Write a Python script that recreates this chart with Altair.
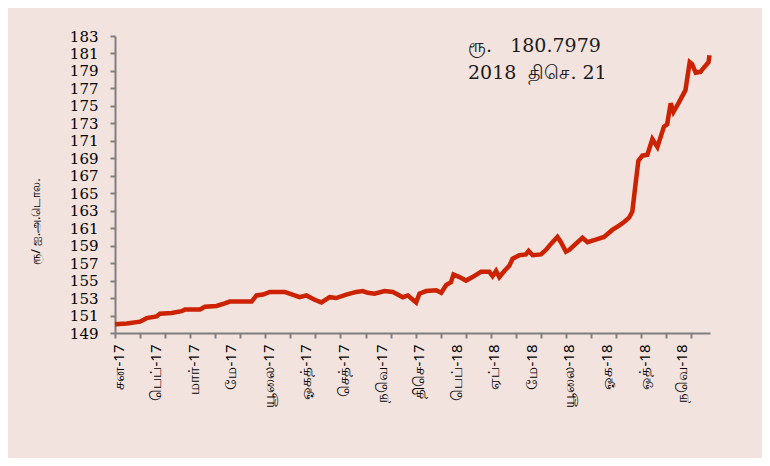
import altair as alt
import pandas as pd

# x position in months since 1 Jan 2017, rate in LKR per USD
months = [0.00, 0.47, 1.00, 1.26, 1.66, 1.79, 2.26, 2.66, 2.79, 3.39, 3.59, 4.05, 4.38, 4.58,
          5.45, 5.65, 5.91, 6.18, 6.77, 6.97, 7.37, 7.64, 7.97, 8.24, 8.57, 8.83, 9.23, 9.63,
          9.89, 10.09, 10.36, 10.76, 11.09, 11.49, 11.69, 12.02, 12.15, 12.42, 12.82, 13.02,
          13.22, 13.41, 13.51, 13.75, 14.01, 14.27, 14.61, 14.94, 15.07, 15.21, 15.34, 15.54,
          15.74, 15.87, 16.14, 16.40, 16.51, 16.67, 17.00, 17.20, 17.40, 17.66, 17.80, 18.00,
          18.13, 18.39, 18.66, 18.86, 19.19, 19.52, 19.85, 20.12, 20.32, 20.52, 20.65, 20.78,
          20.89, 21.05, 21.25, 21.45, 21.65, 21.91, 22.04, 22.18, 22.29, 22.51, 22.77, 22.94,
          23.03, 23.18, 23.37, 23.51, 23.69, 23.73]
rates = [150.0, 150.1, 150.3, 150.7, 150.9, 151.2, 151.3, 151.5, 151.7, 151.7, 152.0, 152.1,
         152.4, 152.6, 152.6, 153.3, 153.4, 153.7, 153.7, 153.5, 153.1, 153.3, 152.8, 152.5,
         153.1, 153.0, 153.4, 153.7, 153.8, 153.6, 153.5, 153.8, 153.7, 153.1, 153.3, 152.5,
         153.5, 153.8, 153.9, 153.6, 154.5, 154.8, 155.7, 155.4, 155.0, 155.4, 156.0, 156.0,
         155.5, 156.1, 155.4, 156.1, 156.7, 157.5, 157.9, 158.0, 158.4, 157.9, 158.0, 158.5,
         159.2, 160.0, 159.4, 158.3, 158.5, 159.2, 159.9, 159.4, 159.7, 160.0, 160.8, 161.3,
         161.7, 162.2, 162.9, 166.1, 168.7, 169.3, 169.4, 171.2, 170.3, 172.6, 172.9, 175.3,
         174.3, 175.4, 176.8, 180.0, 179.8, 178.8, 178.9, 179.4, 180.0, 180.7979]

x_labels = ["சன-17", "பெப்-17", "மார்-17", "மே-17", "யூலை-17", "ஓகத்-17", "செத்-17",
            "நவெ-17", "திசெ-17", "பெப்-18", "ஏப்-18", "மே-18", "யூலை-18", "ஓக-18",
            "ஒத்-18", "நவெ-18"]
y_ticks = list(range(149, 184, 2))
annotation = ["ரூ.\u00a0\u00a0\u00a0180.7979", "2018\u00a0\u00a0திசெ.\u00a021"]
y_title = "ரூ/ ஐ.அ.டொல."

df = pd.DataFrame({"m": months, "rate": rates})

axis_values = [i * 0.5 for i in range(48)]
label_array = "[" + ",".join("'" + s + "'" for s in x_labels) + "]"
label_expr = ("datum.value % 1.5 == 0 ? " + label_array +
              "[round(datum.value / 1.5)] : ''")

AX = "#7f7f7f"
SERIF = "DejaVu Serif"

x_enc = alt.X(
    "m:Q",
    scale=alt.Scale(domain=[0, 23.75], nice=False, zero=False),
    axis=alt.Axis(
        values=axis_values, labelExpr=label_expr, labelOverlap=False,
        labelAngle=-90, labelAlign="right", labelBaseline="middle",
        labelFontSize=15, labelFont="Noto Sans", labelColor="#000000",
        labelPadding=6, labelOffset=3,
        tickOpacity={"condition": {"test": "datum.value % 1 != 0", "value": 0}, "value": 1},
        tickSize=5, tickWidth=2, tickColor=AX,
        domainColor=AX, domainWidth=2, grid=False, title=None,
    ),
)
y_enc = alt.Y(
    "rate:Q",
    scale=alt.Scale(domain=[149, 183], nice=False, zero=False),
    axis=alt.Axis(
        values=y_ticks, labelFontSize=15, labelFont=SERIF, labelColor="#000000",
        labelPadding=12, tickSize=5, tickWidth=2, tickColor=AX,
        domainColor=AX, domainWidth=2, grid=False, labelOverlap=False,
        title=y_title, titleFontSize=12, titleFont="Noto Sans", titleFontWeight="normal",
        titleColor="#000000", titleAngle=-90, titleX=-80, titleY=185,
        titleAlign="center", titleBaseline="middle",
    ),
)

line = alt.Chart(df).mark_line(color="#CC2200", strokeWidth=4.5).encode(x=x_enc, y=y_enc)

ann_df = pd.DataFrame({"t": annotation})
ann1 = alt.Chart(ann_df).transform_filter(alt.datum.t == annotation[0]).mark_text(
    align="left", baseline="middle", font=SERIF, fontSize=19, color="#1a1a1a"
).encode(x=alt.value(353), y=alt.value(10), text="t:N")
ann2 = alt.Chart(ann_df).transform_filter(alt.datum.t == annotation[1]).mark_text(
    align="left", baseline="middle", font=SERIF, fontSize=19, color="#1a1a1a"
).encode(x=alt.value(353), y=alt.value(37), text="t:N")

chart = alt.layer(line, ann1, ann2).properties(
    width=595, height=297,
    autosize=alt.AutoSizeParams(type="none"),
    padding={"left": 107, "top": 28, "right": 52, "bottom": 125},
    background="#F2E3DF",
).configure_view(stroke=None)

chart.save("out.html", embed_options={"renderer": "svg", "actions": False})
